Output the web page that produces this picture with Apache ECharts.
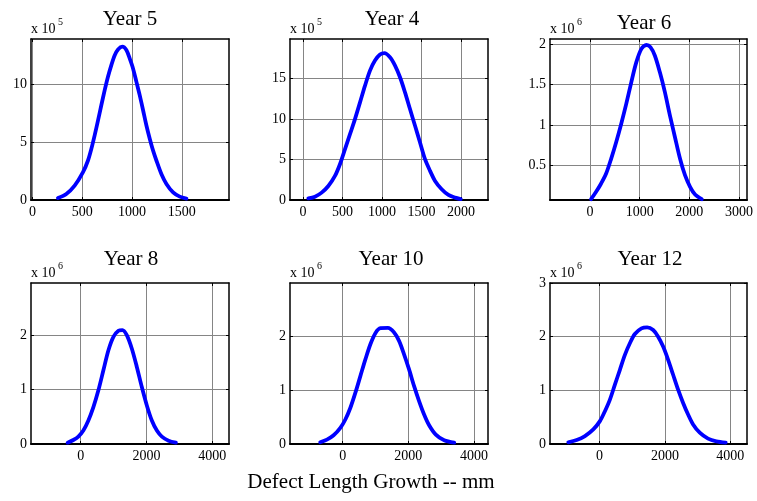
<!DOCTYPE html>
<html>
<head>
<meta charset="utf-8">
<script src="https://cdn.jsdelivr.net/npm/echarts@6/dist/echarts.min.js"></script>
<style>
  html, body { margin: 0; padding: 0; background: #fff; }
  #chart { width: 757px; height: 501px; }
</style>
</head>
<body>
<div id="chart"></div>
<script>
// Defect length growth distributions per inspection year (length in mm, count scaled by 10^5 / 10^6)
const year5X = [255, 339, 423, 507, 557, 591, 624, 658, 691, 725, 758, 792, 826, 859, 903, 943, 977, 1010, 1044, 1077, 1111, 1144, 1178, 1211, 1245, 1295, 1346, 1413, 1480, 1547];
const year5Y = [0.17, 0.52, 1.24, 2.4, 3.41, 4.42, 5.58, 6.88, 8.18, 9.48, 10.64, 11.65, 12.5, 13.0, 13.24, 12.95, 12.2, 11.36, 10.2, 9.05, 7.75, 6.45, 5.29, 4.28, 3.41, 2.25, 1.39, 0.66, 0.29, 0.12];

const year4X = [68, 152, 236, 321, 405, 468, 532, 595, 658, 722, 785, 848, 911, 975, 1030, 1101, 1165, 1228, 1291, 1354, 1418, 1481, 1544, 1608, 1671, 1755, 1840, 1924, 1996];
const year4Y = [0.2, 0.41, 0.91, 1.73, 2.97, 4.41, 6.27, 8.12, 9.98, 12.04, 14.1, 15.95, 17.19, 17.93, 18.1, 17.6, 16.57, 15.13, 13.27, 11.21, 9.15, 7.09, 5.03, 3.59, 2.35, 1.32, 0.62, 0.29, 0.12];

const year6X = [20, 122, 223, 324, 426, 527, 628, 730, 831, 932, 1034, 1135, 1216, 1304, 1405, 1507, 1608, 1709, 1811, 1912, 2014, 2115, 2250];
const year6Y = [0.085, 0.176, 0.279, 0.402, 0.587, 0.792, 1.018, 1.265, 1.532, 1.778, 1.942, 1.99, 1.963, 1.86, 1.655, 1.408, 1.121, 0.854, 0.587, 0.381, 0.238, 0.143, 0.085];

const year8X = [-396, -223, -71, 81, 234, 386, 538, 690, 843, 995, 1147, 1269, 1401, 1553, 1706, 1858, 2010, 2162, 2315, 2467, 2670, 2893];
const year8Y = [0.025, 0.074, 0.136, 0.247, 0.432, 0.679, 0.988, 1.358, 1.728, 1.975, 2.086, 2.099, 2.006, 1.759, 1.42, 1.049, 0.71, 0.432, 0.247, 0.136, 0.062, 0.025];

const year10X = [-684, -480, -276, -71, 82, 235, 388, 541, 694, 847, 1000, 1153, 1378, 1561, 1714, 1867, 2020, 2173, 2327, 2480, 2633, 2837, 3092, 3398];
const year10Y = [0.031, 0.081, 0.161, 0.298, 0.453, 0.671, 0.95, 1.261, 1.571, 1.851, 2.056, 2.143, 2.149, 2.068, 1.913, 1.665, 1.385, 1.075, 0.795, 0.547, 0.348, 0.174, 0.068, 0.025];

const year12X = [-957, -702, -448, -193, 10, 163, 316, 468, 621, 774, 926, 1079, 1282, 1455, 1639, 1791, 1944, 2097, 2249, 2402, 2555, 2707, 2860, 3064, 3318, 3572, 3857];
const year12Y = [0.031, 0.074, 0.148, 0.272, 0.426, 0.611, 0.827, 1.105, 1.383, 1.66, 1.877, 2.049, 2.154, 2.173, 2.123, 2.0, 1.815, 1.568, 1.29, 1.012, 0.765, 0.549, 0.364, 0.21, 0.099, 0.049, 0.025];

// Tick labels per panel
const xTicksYear5 = [0, 500, 1000, 1500];
const yTicksYear5 = [0, 5, 10];
const xTicksYear4 = [0, 500, 1000, 1500, 2000];
const yTicksYear4 = [0, 5, 10, 15];
const xTicksYear6 = [0, 1000, 2000, 3000];
const yTicksYear6 = [0.5, 1, 1.5, 2];
const xTicksWide = [0, 2000, 4000];
const yTicksRow2 = [0, 1, 2];
const yTicksYear12 = [0, 1, 2, 3];

const titles = ['Year 5', 'Year 4', 'Year 6', 'Year 8', 'Year 10', 'Year 12'];
const exponents = ['5', '5', '6', '6', '6', '6'];
const xLabel = 'Defect Length Growth -- mm';

const SERIF = '"Liberation Serif", "Times New Roman", serif';

const panels = [
  { x: year5X, y: year5Y, xt: xTicksYear5, yt: yTicksYear5, xr: [-16, 1975], yr: [0, 13.9],
    grid: { left: 31, top: 39, width: 198, height: 161 }, titleAt: [130, 19] },
  { x: year4X, y: year4Y, xt: xTicksYear4, yt: yTicksYear4, xr: [-164, 2341], yr: [0, 19.85],
    grid: { left: 290, top: 39, width: 198, height: 161 }, titleAt: [392, 19] },
  { x: year6X, y: year6Y, xt: xTicksYear6, yt: yTicksYear6, xr: [-807, 3161], yr: [0.075, 2.064],
    grid: { left: 550, top: 39, width: 197, height: 161 }, titleAt: [644, 23] },
  { x: year8X, y: year8Y, xt: xTicksWide, yt: yTicksRow2, xr: [-1509, 4506], yr: [0, 2.966],
    grid: { left: 31, top: 283, width: 198, height: 161 }, titleAt: [131, 259] },
  { x: year10X, y: year10Y, xt: xTicksWide, yt: yTicksRow2, xr: [-1604, 4426], yr: [0, 2.98],
    grid: { left: 290, top: 283, width: 198, height: 161 }, titleAt: [391, 259] },
  { x: year12X, y: year12Y, xt: xTicksWide, yt: yTicksYear12, xr: [-1517, 4509], yr: [0, 3],
    grid: { left: 550, top: 283, width: 197, height: 161 }, titleAt: [650, 259] }
];

const grids = [], xAxes = [], yAxes = [], series = [], graphics = [];
const boxLine = w => ({ show: true, onZero: false, lineStyle: { color: '#000', width: w } });
const labelStyle = { color: '#000', fontFamily: SERIF, fontSize: 14, formatter: v => String(v) };
const tickStyle = vals => ({ show: true, inside: true, length: 3, customValues: vals, lineStyle: { color: '#000' } });
const gridLine = { show: true, lineStyle: { color: '#858585', width: 1 } };

panels.forEach((p, i) => {
  grids.push(Object.assign({ containLabel: false }, p.grid));
  // bottom axis with labels and grid lines
  xAxes.push({
    type: 'value', gridIndex: i, position: 'bottom', min: p.xr[0], max: p.xr[1],
    axisLine: boxLine(2), axisTick: tickStyle(p.xt),
    axisLabel: Object.assign({ customValues: p.xt, margin: 5 }, labelStyle),
    splitLine: gridLine
  });
  // top edge of the box, ticks only
  xAxes.push({
    type: 'value', gridIndex: i, position: 'top', min: p.xr[0], max: p.xr[1],
    axisLine: boxLine(1.5), axisTick: tickStyle(p.xt),
    axisLabel: { show: false }, splitLine: { show: false }
  });
  yAxes.push({
    type: 'value', gridIndex: i, position: 'left', min: p.yr[0], max: p.yr[1],
    axisLine: boxLine(1.5), axisTick: tickStyle(p.yt),
    axisLabel: Object.assign({ customValues: p.yt, margin: 4 }, labelStyle),
    splitLine: gridLine
  });
  // right edge of the box, ticks only
  yAxes.push({
    type: 'value', gridIndex: i, position: 'right', min: p.yr[0], max: p.yr[1],
    axisLine: boxLine(1.5), axisTick: tickStyle(p.yt),
    axisLabel: { show: false }, splitLine: { show: false }
  });
  series.push({
    type: 'line', xAxisIndex: 2 * i, yAxisIndex: 2 * i,
    data: p.x.map((v, k) => [v, p.y[k]]),
    smooth: 0.3, showSymbol: false, clip: true,
    lineStyle: { color: '#0000ff', width: 3.8, cap: 'round', join: 'round' }
  });
  // panel title
  graphics.push({
    type: 'text', x: p.titleAt[0], y: p.titleAt[1],
    style: { text: titles[i], fill: '#000', fontFamily: SERIF, fontSize: 21,
             textAlign: 'center', textVerticalAlign: 'middle' }
  });
  // scale factor "x 10^n" above the y axis
  const ex = p.grid.left, ey = p.grid.top - 10;
  graphics.push({
    type: 'text', x: ex, y: ey,
    style: { text: 'x 10', fill: '#000', fontFamily: SERIF, fontSize: 14,
             textAlign: 'left', textVerticalAlign: 'middle' }
  });
  graphics.push({
    type: 'text', x: ex + 27, y: ey - 7,
    style: { text: exponents[i], fill: '#000', fontFamily: SERIF, fontSize: 10,
             textAlign: 'left', textVerticalAlign: 'middle' }
  });
});

graphics.push({
  type: 'text', x: 371, y: 482,
  style: { text: xLabel, fill: '#000', fontFamily: SERIF, fontSize: 21,
           textAlign: 'center', textVerticalAlign: 'middle' }
});

const chart = echarts.init(document.getElementById('chart'), null, { renderer: 'canvas' });
chart.setOption({
  backgroundColor: '#fff',
  animation: false,
  grid: grids,
  xAxis: xAxes,
  yAxis: yAxes,
  series: series,
  graphic: graphics
});
</script>
</body>
</html>
